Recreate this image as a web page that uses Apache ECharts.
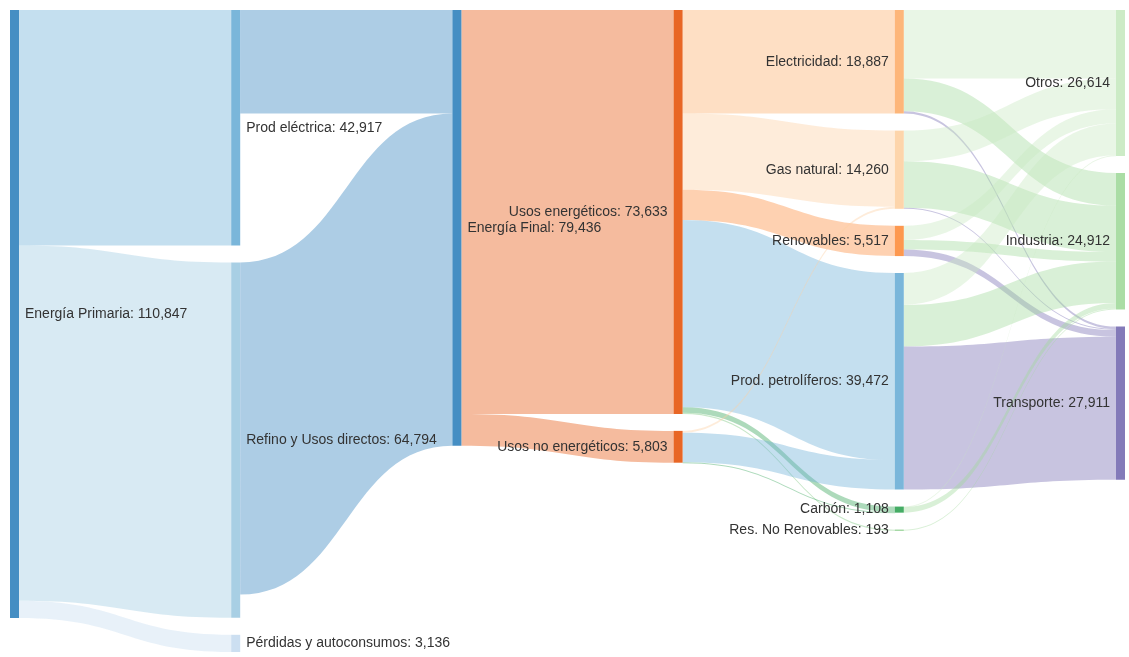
<!DOCTYPE html>
<html>
<head>
<meta charset="utf-8">
<title>Balance energético</title>
<script src="https://cdn.jsdelivr.net/npm/echarts@6/dist/echarts.min.js"></script>
<style>
  html, body { margin: 0; padding: 0; background: #fff; }
  #chart { width: 1129px; height: 657px; }
</style>
</head>
<body>
<div id="chart"></div>
<script>
// nodos (ktep), en el orden de cada columna
var nodeNames = [
    'Energía Primaria',
    'Prod eléctrica', 'Refino y Usos directos', 'Pérdidas y autoconsumos',
    'Energía Final',
    'Usos energéticos', 'Usos no energéticos',
    'Electricidad', 'Gas natural', 'Renovables', 'Prod. petrolíferos', 'Carbón', 'Res. No Renovables',
    'Otros', 'Industria', 'Transporte'
];
var nodeValues = [
    110847,
    42917, 64794, 3136,
    79436,
    73633, 5803,
    18887, 14260, 5517, 39472, 1108, 193,
    26614, 24912, 27911
];

// flujos: origen -> destino
var linkSources = [
    'Energía Primaria', 'Energía Primaria', 'Energía Primaria',
    'Prod eléctrica', 'Refino y Usos directos',
    'Energía Final', 'Energía Final',
    'Usos energéticos', 'Usos energéticos', 'Usos energéticos', 'Usos energéticos', 'Usos energéticos', 'Usos energéticos',
    'Usos no energéticos', 'Usos no energéticos', 'Usos no energéticos',
    'Electricidad', 'Electricidad', 'Electricidad',
    'Gas natural', 'Gas natural', 'Gas natural',
    'Renovables', 'Renovables', 'Renovables',
    'Prod. petrolíferos', 'Prod. petrolíferos', 'Prod. petrolíferos',
    'Carbón', 'Carbón',
    'Res. No Renovables'
];
var linkTargets = [
    'Prod eléctrica', 'Refino y Usos directos', 'Pérdidas y autoconsumos',
    'Energía Final', 'Energía Final',
    'Usos energéticos', 'Usos no energéticos',
    'Electricidad', 'Gas natural', 'Renovables', 'Prod. petrolíferos', 'Carbón', 'Res. No Renovables',
    'Gas natural', 'Prod. petrolíferos', 'Carbón',
    'Otros', 'Industria', 'Transporte',
    'Otros', 'Industria', 'Transporte',
    'Otros', 'Industria', 'Transporte',
    'Otros', 'Industria', 'Transporte',
    'Otros', 'Industria',
    'Industria'
];
var linkValues = [
    42917, 64794, 3136,
    18887, 60549,
    73633, 5803,
    18887, 13900, 5517, 34099, 1037, 193,
    360, 5372, 71,
    12500, 5967, 420,
    5600, 8460, 200,
    2600, 1700, 1217,
    5800, 7598, 26074,
    114, 994,
    193
];

// colores de los nodos
var nodeColors = {
    'Energía Primaria': '#3182bd',
    'Prod eléctrica': '#6baed6',
    'Refino y Usos directos': '#9ecae1',
    'Pérdidas y autoconsumos': '#c6dbef',
    'Energía Final': '#3182bd',
    'Usos energéticos': '#e6550d',
    'Usos no energéticos': '#e6550d',
    'Electricidad': '#fdae6b',
    'Gas natural': '#fdd0a2',
    'Renovables': '#fd8d3c',
    'Prod. petrolíferos': '#6baed6',
    'Carbón': '#31a354',
    'Res. No Renovables': '#74c476',
    'Otros': '#c7e9c0',
    'Industria': '#a1d99b',
    'Transporte': '#756bb1'
};

var nodes = nodeNames.map(function (name, i) {
    return {
        name: name,
        value: nodeValues[i],
        itemStyle: { color: nodeColors[name] }
    };
});
var links = linkValues.map(function (v, i) {
    return { source: linkSources[i], target: linkTargets[i], value: v };
});

var chart = echarts.init(document.getElementById('chart'));
chart.setOption({
    animation: false,
    series: [{
        type: 'sankey',
        left: 10,
        top: 10,
        right: 4,
        bottom: 5,
        nodeWidth: 9,
        nodeGap: 17,
        nodeAlign: 'left',
        // sin relajación: se respeta el orden de los nodos en cada columna
        layoutIterations: 0,
        draggable: false,
        emphasis: { disabled: true },
        data: nodes,
        links: links,
        itemStyle: { opacity: 0.9, borderWidth: 0 },
        lineStyle: { color: 'target', opacity: 0.4, curveness: 0.5 },
        label: {
            fontSize: 14,
            fontFamily: 'Liberation Sans, Arial, sans-serif',
            color: '#333',
            distance: 6,
            formatter: function (p) {
                var i = nodeNames.indexOf(p.name);
                return p.name + ': ' + nodeValues[i].toLocaleString('en-US');
            }
        },
        labelLayout: { moveOverlap: 'shiftY' },
        levels: [
            { depth: 0, label: { position: 'right' } },
            { depth: 1, label: { position: 'right' } },
            { depth: 2, label: { position: 'right' } },
            { depth: 3, label: { position: 'left' } },
            { depth: 4, label: { position: 'left' } },
            { depth: 5, label: { position: 'left' } }
        ]
    }]
});
</script>
</body>
</html>
